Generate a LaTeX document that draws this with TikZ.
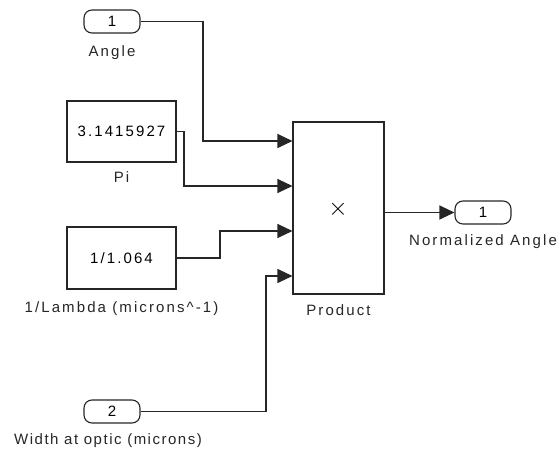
\documentclass[tikz,border=0pt]{standalone}
\usepackage{fontspec}
\setmainfont[LetterSpace=14]{Liberation Sans}
\usetikzlibrary{arrows.meta}
\begin{document}
\begin{tikzpicture}[x=1pt,y=-1pt,
  wire/.style={line width=1.2pt,draw=black!85},
  sig/.style={wire,-{Triangle[length=15pt,width=14pt]}},
  port/.style={draw=black!85,line width=1.1pt,rounded corners=8pt,minimum width=56pt,minimum height=23pt,inner sep=0pt,font=\fontsize{15}{16}\selectfont},
  blockbox/.style={draw=black!85,line width=1.1pt,inner sep=0pt,font=\fontsize{15}{16}\selectfont},
  lbl/.style={anchor=base,inner sep=0pt,font=\fontsize{15}{16}\selectfont,text=black!85}]
\useasboundingbox (0,0) rectangle (557,450);
% blocks
\node[port] (in1) at (112,21.5) {1};
\node[lbl] (in1l) at (112,56) {Angle};
\node[blockbox,minimum width=109pt,minimum height=61pt] (pi) at (121.5,131.5) {3.1415927};
\node[lbl] (pil) at (121.5,182) {Pi};
\node[blockbox,minimum width=109pt,minimum height=62pt] (lam) at (121.5,258) {1/1.064};
\node[lbl] (laml) at (121.5,312) {1/Lambda (microns\textasciicircum-1)};
\node[port] (in2) at (112,411.5) {2};
\node[lbl] (in2l) at (108,444) {\addfontfeature{LetterSpace=10}Width at optic (microns)};
\node[blockbox,minimum width=91pt,minimum height=172pt] (prod) at (338.5,208) {};
\node[inner sep=0pt] (x) at (338,209) {\fontsize{28}{28}\selectfont$\times$};
\node[lbl] (prodl) at (338.5,315) {Product};
\node[port] (out) at (483,212.5) {1};
\node[lbl] (outl) at (483,245) {Normalized Angle};
% input points
\coordinate (p1) at (prod.west |- 0,141);
\coordinate (p2) at (prod.west |- 0,186);
\coordinate (p3) at (prod.west |- 0,231);
\coordinate (p4) at (prod.west |- 0,276);
% connectors
\draw[sig] (in1.east) -| (203,141) -- (p1);
\draw[sig] (pi.east) -| (184,186) -- (p2);
\draw[sig] (lam.east) -| (220,231) -- (p3);
\draw[sig] (in2.east) -| (266,276) -- (p4);
\draw[sig] (prod.east |- out.west) -- (out.west);
\end{tikzpicture}
\end{document}
